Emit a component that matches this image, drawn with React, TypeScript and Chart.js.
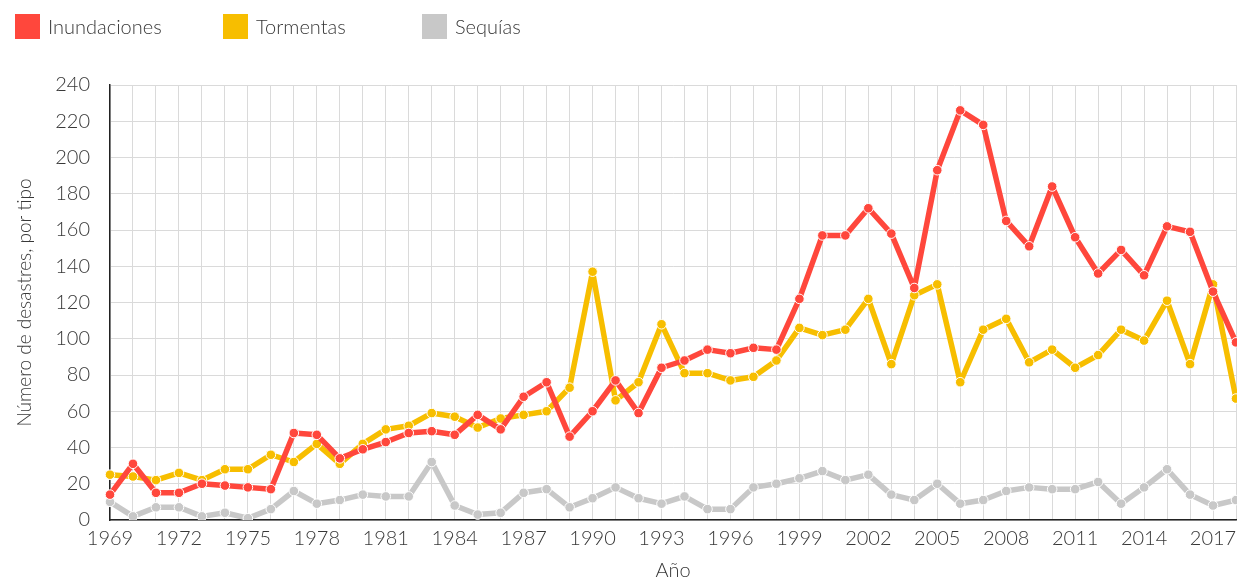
import React, { useEffect, useRef } from "react";
import { Chart, registerables } from "chart.js";

Chart.register(...registerables);

const YEARS = [
  "1969", "1970", "1971", "1972", "1973", "1974", "1975", "1976", "1977", "1978",
  "1979", "1980", "1981", "1982", "1983", "1984", "1985", "1986", "1987", "1988",
  "1989", "1990", "1991", "1992", "1993", "1994", "1995", "1996", "1997", "1998",
  "1999", "2000", "2001", "2002", "2003", "2004", "2005", "2006", "2007", "2008",
  "2009", "2010", "2011", "2012", "2013", "2014", "2015", "2016", "2017", "2018",
];

const INUNDACIONES = [
  14, 31, 15, 15, 20, 19, 18, 17, 48, 47,
  34, 39, 43, 48, 49, 47, 58, 50, 68, 76,
  46, 60, 77, 59, 84, 88, 94, 92, 95, 94,
  122, 157, 157, 172, 158, 128, 193, 226, 218, 165,
  151, 184, 156, 136, 149, 135, 162, 159, 126, 98,
];

const TORMENTAS = [
  25, 24, 22, 26, 22, 28, 28, 36, 32, 42,
  31, 42, 50, 52, 59, 57, 51, 56, 58, 60,
  73, 137, 66, 76, 108, 81, 81, 77, 79, 88,
  106, 102, 105, 122, 86, 124, 130, 76, 105, 111,
  87, 94, 84, 91, 105, 99, 121, 86, 130, 67,
];

const SEQUIAS = [
  10, 2, 7, 7, 2, 4, 1, 6, 16, 9,
  11, 14, 13, 13, 32, 8, 3, 4, 15, 17,
  7, 12, 18, 12, 9, 13, 6, 6, 18, 20,
  23, 27, 22, 25, 14, 11, 20, 9, 11, 16,
  18, 17, 17, 21, 9, 18, 28, 14, 8, 11,
];

const SERIES_LABELS = ["Inundaciones", "Tormentas", "Sequías"];
const Y_TITLE = "Número de desastres, por tipo";
const X_TITLE = "Año";

const COLORS = ["#FF473C", "#F7BE00", "#C8C8C8"];
const FONT = "Lato, 'Noto Sans', sans-serif";
const TEXT_COLOR = "#383838";

const legendPlugin = {
  id: "fixedLegend",
  afterDraw(chart: any, _args: any, opts: any) {
    const ctx = chart.ctx;
    ctx.save();
    ctx.font = `300 ${opts.fontSize}px ${FONT}`;
    ctx.textBaseline = "middle";
    ctx.textAlign = "left";
    chart.data.datasets.forEach((ds: any, i: number) => {
      const x = opts.positions[i];
      ctx.fillStyle = ds.borderColor;
      ctx.fillRect(x, opts.top, opts.box, opts.box);
      ctx.fillStyle = TEXT_COLOR;
      ctx.fillText(ds.label, x + opts.box + 8, opts.top + opts.box / 2 + 1);
    });
    ctx.restore();
  },
};

function makeDataset(label: string, data: number[], color: string) {
  return {
    label,
    data,
    borderColor: color,
    backgroundColor: color,
    borderWidth: 5.5,
    borderJoinStyle: "round" as const,
    borderCapStyle: "round" as const,
    pointRadius: 4.8,
    pointBackgroundColor: color,
    pointBorderColor: "#ffffff",
    pointBorderWidth: 1,
    pointHoverRadius: 5,
    tension: 0,
    fill: false,
  };
}

export default function App() {
  const canvasRef = useRef<HTMLCanvasElement | null>(null);

  useEffect(() => {
    if (!canvasRef.current) return;
    const chart = new Chart(canvasRef.current, {
      type: "line",
      data: {
        labels: YEARS,
        datasets: [
          makeDataset(SERIES_LABELS[0], INUNDACIONES, COLORS[0]),
          makeDataset(SERIES_LABELS[1], TORMENTAS, COLORS[1]),
          makeDataset(SERIES_LABELS[2], SEQUIAS, COLORS[2]),
        ],
      },
      options: {
        animation: false,
        responsive: true,
        maintainAspectRatio: false,
        layout: { padding: { top: 85, right: 24, bottom: 0, left: 0 } },
        plugins: {
          legend: { display: false },
          tooltip: { enabled: false },
          fixedLegend: { positions: [15, 223, 422], top: 14, box: 25, fontSize: 20 },
        } as any,
        scales: {
          x: {
            type: "category",
            offset: false,
            grid: { color: "#dadada", lineWidth: 1, drawTicks: false },
            border: { color: "#222222", width: 1.5 },
            ticks: {
              autoSkip: false,
              maxRotation: 0,
              minRotation: 0,
              padding: 7,
              color: TEXT_COLOR,
              font: { family: FONT, size: 20, weight: 300 as any },
              callback: function (this: any, _v: any, index: number) {
                return index % 3 === 0 ? YEARS[index] : "";
              },
            },
            title: {
              display: true,
              text: X_TITLE,
              color: TEXT_COLOR,
              font: { family: FONT, size: 20, weight: 300 as any },
              padding: { top: 0, bottom: 3 },
            },
            afterFit(scale: any) {
              scale.height = 66;
            },
          },
          y: {
            min: 0,
            max: 240,
            ticks: {
              stepSize: 20,
              padding: 20,
              color: TEXT_COLOR,
              font: { family: FONT, size: 20, weight: 300 as any },
            },
            grid: { color: "#dadada", lineWidth: 1, drawTicks: false },
            border: { color: "#222222", width: 1.5 },
            title: {
              display: true,
              text: Y_TITLE,
              color: TEXT_COLOR,
              font: { family: FONT, size: 19, weight: 300 as any },
              padding: { top: 13, bottom: 0 },
            },
            afterFit(scale: any) {
              scale.width = 110;
            },
          },
        },
      },
      plugins: [legendPlugin],
    });
    return () => chart.destroy();
  }, []);

  return (
    <div
      style={{
        position: "absolute",
        left: 0,
        top: 0,
        width: 1237,
        height: 586,
        overflow: "hidden",
        background: "#ffffff",
      }}
    >
      <div style={{ position: "relative", width: 1260, height: 586 }}>
        <canvas ref={canvasRef} />
      </div>
    </div>
  );
}
